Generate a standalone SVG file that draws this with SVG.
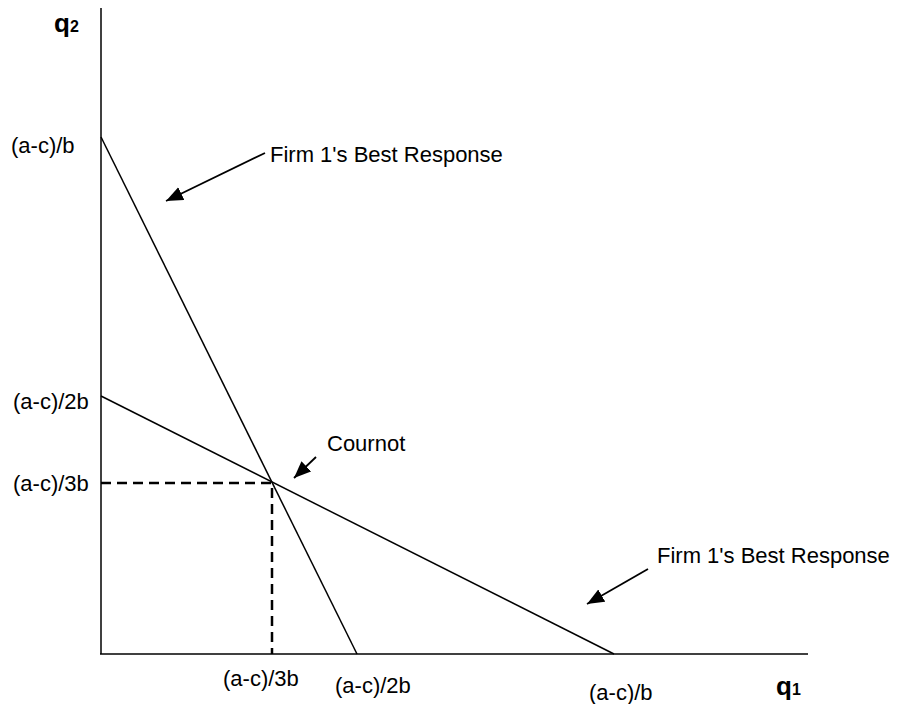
<svg xmlns="http://www.w3.org/2000/svg" width="899" height="704" viewBox="0 0 899 704">
<style>
text{font-family:"Liberation Sans",Arial,sans-serif;font-size:22px;fill:#000}
.ax{font-weight:bold;font-size:26px}
.sub{font-weight:bold;font-size:16px}
.ln{stroke:#000;stroke-width:1.5;fill:none}
.dash{stroke:#000;stroke-width:2.5;stroke-dasharray:10 6;fill:none}
.arr{stroke:#000;stroke-width:1.8;fill:none;marker-end:url(#ah)}
</style>
<defs>
<marker id="ah" markerUnits="userSpaceOnUse" markerWidth="20" markerHeight="16" refX="17" refY="7" orient="auto">
<path d="M0,0 L17,7 L0,14 Z" fill="#000"/>
</marker>
</defs>
<rect width="899" height="704" fill="#fff"/>
<g id="axes">
<line class="ln" x1="101" y1="8" x2="101" y2="654"/>
<line class="ln" x1="100" y1="654" x2="808" y2="654"/>
<text x="54" y="32" class="ax">q<tspan class="sub">2</tspan></text>
<text x="776" y="695" class="ax">q<tspan class="sub">1</tspan></text>
</g>
<g id="curves">
<line class="ln" x1="101" y1="137" x2="357" y2="654"/>
<line class="ln" x1="101" y1="396" x2="614" y2="654"/>
<polyline class="dash" points="101,483 272,483 272,654"/>
</g>
<g id="labels">
<text x="11" y="153">(a-c)/b</text>
<text x="13" y="409">(a-c)/2b</text>
<text x="13" y="491">(a-c)/3b</text>
<text x="223" y="686">(a-c)/3b</text>
<text x="335" y="693">(a-c)/2b</text>
<text x="589" y="700">(a-c)/b</text>
</g>
<g id="firm1-top">
<text x="270" y="162">Firm 1's Best Response</text>
</g>
<g id="cournot">
<text x="327" y="451">Cournot</text>
</g>
<g id="firm1-bottom">
<text x="657" y="563">Firm 1's Best Response</text>
</g>
<g id="connectors">
<line class="arr" x1="265" y1="153" x2="166" y2="201"/>
<line class="arr" x1="316" y1="457" x2="294" y2="478"/>
<line class="arr" x1="648" y1="569" x2="587" y2="604"/>
</g>
</svg>
